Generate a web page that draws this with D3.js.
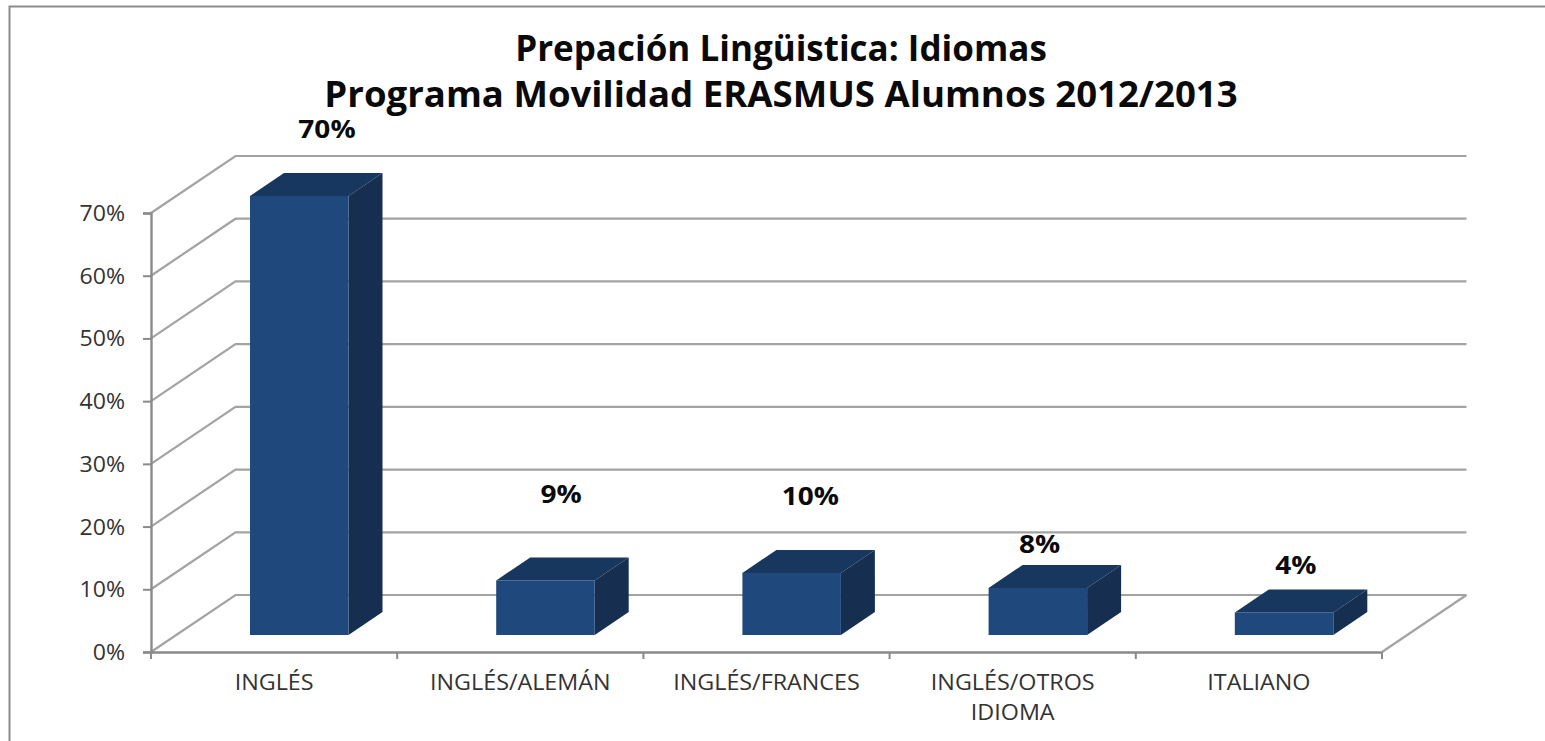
<!DOCTYPE html>
<html>
<head>
<meta charset="utf-8">
<script src="https://cdnjs.cloudflare.com/ajax/libs/d3/7.8.5/d3.min.js"></script>
<style>
html,body{margin:0;padding:0;background:#fff;overflow:hidden}
svg{display:block}
text{font-family:"Open Sans",Lato,sans-serif}
</style>
</head>
<body>
<svg id="chart" width="1545" height="741"></svg>
<script>
const titleLines = ["Prepación Lingüistica: Idiomas", "Programa Movilidad ERASMUS Alumnos 2012/2013"];
const categories = ["INGLÉS", "INGLÉS/ALEMÁN", "INGLÉS/FRANCES", "INGLÉS/OTROS IDIOMA", "ITALIANO"];
const values = [70, 8.7, 9.9, 7.5, 3.6];
const valueLabels = ["70%", "9%", "10%", "8%", "4%"];
const yTicks = [0, 10, 20, 30, 40, 50, 60, 70];

const svg = d3.select("#chart");
const axisX0 = 151, axisX1 = 1382, axisY0 = 652, axisY70 = 213;
const depthX = 84.5, depthY = -57;
const barDepthX = 34, barDepthY = -23;
const barBaseY = 635, barOffset = 99, barWidth = 98.5;
const gridColor = "#a3a3a3", axisColor = "#8a8a8a";

// the reference text is horizontally stretched: widen real text by a factor
function stretch(sel, factor) {
  sel.each(function () {
    const len = this.getComputedTextLength();
    d3.select(this).attr("textLength", len * factor).attr("lengthAdjust", "spacingAndGlyphs");
  });
}

const x = d3.scaleBand().domain(categories).range([axisX0, axisX1]).paddingInner(0).paddingOuter(0);
const y = d3.scaleLinear().domain([0, 70]).range([axisY0, axisY70]);

// outer frame (open on the right and bottom)
svg.append("path")
  .attr("d", `M9.5,741V6.5H1545`)
  .attr("fill", "none").attr("stroke", "#8c8c8c").attr("stroke-width", 2);

// walls
const grid = svg.append("g").attr("fill", "none").attr("stroke", gridColor).attr("stroke-width", 2.2);
grid.selectAll("path.wall").data(yTicks).join("path").attr("class", "wall")
  .attr("d", d => `M${axisX0},${y(d)}L${axisX0 + depthX},${y(d) + depthY}H${axisX1 + depthX}`);
grid.append("path")
  .attr("d", `M${axisX1},${y(0)}L${axisX1 + depthX},${y(0) + depthY}`);

// axes
const axisLeft = d3.axisLeft(y).tickValues(yTicks).tickFormat(d => d + "%").tickSize(8);
const gy = svg.append("g").attr("transform", `translate(${axisX0},0)`).call(axisLeft);
const axisBottom = d3.axisBottom(x).tickSize(0).tickFormat("");
const gx = svg.append("g").attr("transform", `translate(0,${axisY0})`).call(axisBottom);
[gy, gx].forEach(g => {
  g.select(".domain").attr("stroke", axisColor).attr("stroke-width", 2.4);
  g.selectAll(".tick line").attr("stroke", axisColor).attr("stroke-width", 2);
});
gy.selectAll(".tick text").attr("x", -26).attr("dy", "0.36em")
  .attr("font-size", 21).attr("fill", "#333").style("font-family", '"Open Sans"')
  .call(stretch, 1.1);

// x tick marks on band edges
const edges = categories.map(c => x(c)).concat([axisX1]);
svg.append("g").selectAll("line").data(edges).join("line")
  .attr("x1", d => d).attr("x2", d => d)
  .attr("y1", axisY0).attr("y2", axisY0 + 7)
  .attr("stroke", axisColor).attr("stroke-width", 2);

// x labels
const splitLabel = c => c === "INGLÉS/OTROS IDIOMA" ? ["INGLÉS/OTROS", "IDIOMA"] : [c];
const xLabelRows = categories.flatMap(c => splitLabel(c).map((t, i) => ({c, t, i})));
svg.append("g").selectAll("text").data(xLabelRows).join("text")
  .attr("text-anchor", "middle").attr("font-size", 21).attr("fill", "#333")
  .attr("x", d => x(d.c) + x.bandwidth() / 2)
  .attr("y", d => 690 + d.i * 30)
  .text(d => d.t)
  .call(stretch, 1.11);

// bars
const h = d => y(0) - y(d);
const val = c => values[categories.indexOf(c)];
const bars = svg.append("g").selectAll("g").data(categories).join("g")
  .attr("transform", c => `translate(${x(c) + barOffset},${barBaseY})`);
bars.append("path").attr("fill", "#17375e")
  .attr("d", c => `M0,${-h(val(c))}L${barDepthX},${-h(val(c)) + barDepthY}H${barWidth + barDepthX}L${barWidth},${-h(val(c))}Z`);
bars.append("path").attr("fill", "#162f50")
  .attr("d", c => `M${barWidth},${-h(val(c))}L${barDepthX + barWidth},${-h(val(c)) + barDepthY}V${barDepthY}L${barWidth},0Z`);
bars.append("rect").attr("fill", "#1f497d")
  .attr("x", 0).attr("width", barWidth)
  .attr("y", c => -h(val(c))).attr("height", c => h(val(c)));

// data labels (hand-placed in the original, so each has its own lift above the bar)
const labelLift = [58, 77, 68, 35, 38];
const labelShift = [77, 65, 68, 51, 61];
svg.append("g").selectAll("text").data(categories).join("text")
  .attr("text-anchor", "middle").attr("font-size", 25).attr("font-weight", 700).attr("fill", "#0a0a0a")
  .attr("x", (c, i) => x(c) + barOffset + labelShift[i])
  .attr("y", (c, i) => barBaseY - h(values[i]) - labelLift[i])
  .text((c, i) => valueLabels[i])
  .call(stretch, 1.12);

// title
svg.append("g").selectAll("text").data(titleLines).join("text")
  .attr("text-anchor", "middle").attr("x", 781).attr("font-size", 35).attr("font-weight", 700).attr("fill", "#0a0a0a")
  .attr("y", (d, i) => 61 + i * 46)
  .text(d => d)
  .call(stretch, 1.0);
svg.selectAll("text").filter(d => d === titleLines[1]).call(stretch, 1.045);
</script>
</body>
</html>
